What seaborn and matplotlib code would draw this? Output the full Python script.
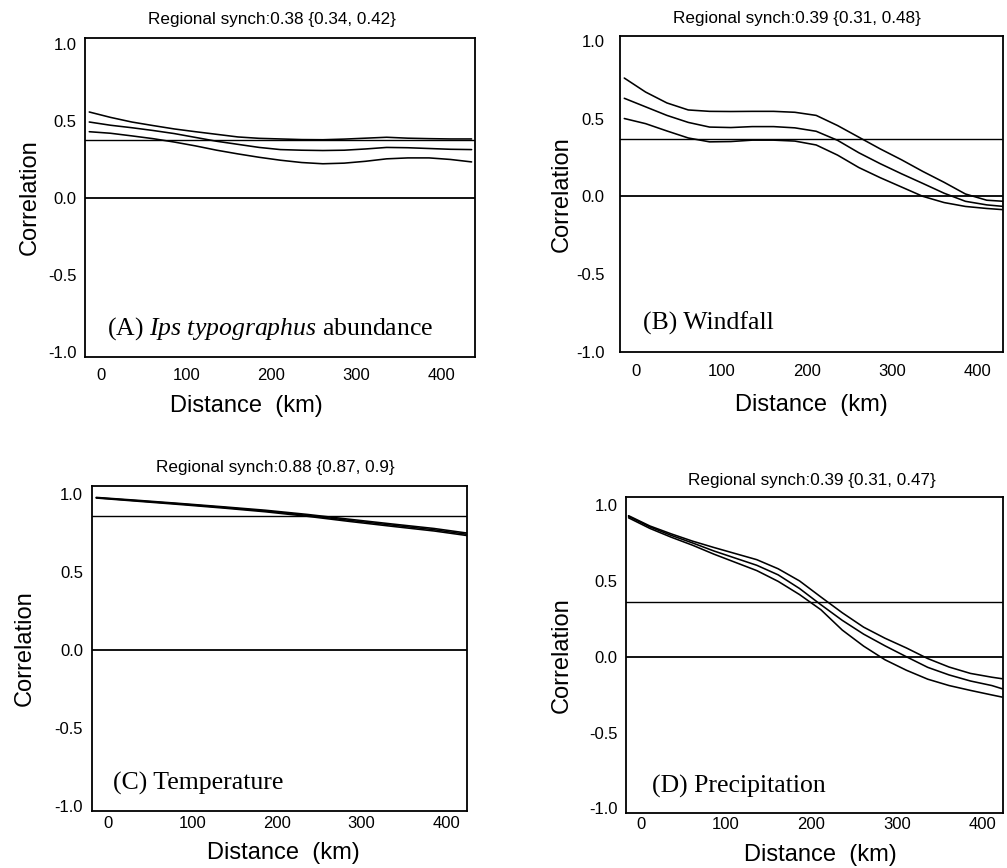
import matplotlib
matplotlib.use("Agg")
import matplotlib.pyplot as plt
import matplotlib.transforms as mtransforms
import seaborn as sns

# distance classes (km) and correlation curves: upper CI, estimate, lower CI
dist_a = [0, 25, 50, 75, 100, 125, 150, 175, 200, 225, 250, 275, 300, 325, 350, 375, 400, 425, 450]
a_upper = [0.56, 0.525, 0.495, 0.472, 0.45, 0.432, 0.415, 0.398, 0.389, 0.385, 0.381, 0.38, 0.384,
           0.39, 0.396, 0.39, 0.387, 0.385, 0.385]
a_mid = [0.495, 0.474, 0.458, 0.44, 0.42, 0.395, 0.37, 0.35, 0.33, 0.316, 0.312, 0.31, 0.312,
         0.32, 0.33, 0.328, 0.323, 0.318, 0.316]
a_lower = [0.432, 0.422, 0.405, 0.387, 0.365, 0.34, 0.312, 0.288, 0.266, 0.247, 0.232, 0.224, 0.228,
           0.24, 0.256, 0.262, 0.262, 0.252, 0.236]

dist_b = [0, 25, 50, 75, 100, 125, 150, 175, 200, 225, 250, 275, 300, 325, 350, 375, 400, 425, 445]
b_upper = [0.76, 0.67, 0.60, 0.555, 0.546, 0.545, 0.546, 0.546, 0.54, 0.52, 0.455, 0.38, 0.305,
           0.235, 0.16, 0.09, 0.015, -0.025, -0.032]
b_mid = [0.63, 0.575, 0.52, 0.475, 0.445, 0.442, 0.448, 0.448, 0.44, 0.418, 0.36, 0.28, 0.21,
         0.145, 0.083, 0.02, -0.032, -0.055, -0.065]
b_lower = [0.50, 0.467, 0.42, 0.375, 0.35, 0.352, 0.361, 0.361, 0.355, 0.33, 0.265, 0.185, 0.12,
           0.06, 0.0, -0.04, -0.065, -0.078, -0.086]

dist_c = [0, 50, 100, 150, 200, 250, 300, 350, 400, 440]
c_upper = [0.977, 0.958, 0.938, 0.917, 0.895, 0.868, 0.837, 0.807, 0.778, 0.748]
c_mid = [0.975, 0.955, 0.935, 0.913, 0.89, 0.862, 0.83, 0.80, 0.77, 0.74]
c_lower = [0.973, 0.952, 0.931, 0.909, 0.885, 0.856, 0.823, 0.792, 0.762, 0.732]

dist_d = [0, 25, 50, 75, 100, 125, 150, 175, 200, 225, 250, 275, 300, 325, 350, 375, 400, 425, 437]
d_upper = [0.93, 0.862, 0.81, 0.762, 0.72, 0.68, 0.64, 0.58, 0.50, 0.394, 0.29, 0.195, 0.122,
           0.058, -0.012, -0.068, -0.11, -0.135, -0.145]
d_mid = [0.925, 0.856, 0.80, 0.75, 0.697, 0.65, 0.603, 0.54, 0.45, 0.343, 0.24, 0.149, 0.072,
         0.0, -0.07, -0.12, -0.16, -0.19, -0.211]
d_lower = [0.916, 0.846, 0.788, 0.735, 0.676, 0.622, 0.568, 0.497, 0.41, 0.31, 0.176, 0.07, -0.02,
           -0.089, -0.148, -0.19, -0.222, -0.252, -0.266]

# regional synchrony line as drawn
synch = [0.38, 0.37, 0.856, 0.36]

titles = ["Regional synch:0.38 {0.34, 0.42}", "Regional synch:0.39 {0.31, 0.48}",
          "Regional synch:0.88 {0.87, 0.9}", "Regional synch:0.39 {0.31, 0.47}"]
panel_labels = [r"(A) $\mathit{Ips\ typographus}$ abundance", "(B) Windfall",
                "(C) Temperature", "(D) Precipitation"]

x_ticks = [0, 100, 200, 300, 400]
y_ticks = [-1.0, -0.5, 0.0, 0.5, 1.0]
y_ticklabels = ["-1.0", "-0.5", "0.0", "0.5", "1.0"]

panels = [
    (dist_a, a_upper, a_mid, a_lower),
    (dist_b, b_upper, b_mid, b_lower),
    (dist_c, c_upper, c_mid, c_lower),
    (dist_d, d_upper, d_mid, d_lower),
]

# layout (figure fractions / axes fractions), tuned to the original
rects = [[0.0844, 0.5887, 0.3873, 0.3675],
         [0.6157, 0.5945, 0.3803, 0.3640],
         [0.0914, 0.0657, 0.3724, 0.3744],
         [0.6216, 0.0634, 0.3744, 0.3640]]
xlims = [(-5, 454), (-5, 444), (-5, 439), (-3, 438)]
ylims = [(-1.03, 1.04), (-1.0, 1.03), (-1.03, 1.05), (-1.03, 1.053)]
title_x = [0.48, 0.462, 0.49, 0.493]
title_pad = [9.9, 9.4, 9.9, 8.6]
xtick_pad = [8.0, 8.5, 3.5, 3.0]
ytick_pad = [6.0, 11.0, 6.5, 6.0]
ylabel_x = [-0.113, -0.123, -0.149, -0.141]
xlabel_xy = [(0.415, -0.119), (0.50, -0.133), (0.51, -0.095), (0.515, -0.098)]
label_xy = [(0.056, 0.069), (0.06, 0.07), (0.056, 0.065), (0.069, 0.066)]

sns.set_theme(style="white")
plt.rcParams['font.family'] = ['Liberation Sans', 'DejaVu Sans']
plt.rcParams['axes.unicode_minus'] = False
plt.rcParams['mathtext.fontset'] = 'custom'
plt.rcParams['mathtext.rm'] = 'Liberation Serif'
plt.rcParams['mathtext.it'] = 'Liberation Serif:italic'

fig = plt.figure(figsize=(10.07, 8.68), dpi=100)
offset = mtransforms.ScaledTranslation(12 / 100, 0, fig.dpi_scale_trans)

for i, (dist, up, mid, lo) in enumerate(panels):
    ax = fig.add_axes(rects[i])
    for curve in (up, mid, lo):
        sns.lineplot(x=dist, y=curve, ax=ax, color="black", linewidth=1.15)
    ax.axhline(synch[i], color="black", linewidth=1.0)
    ax.axhline(0.0, color="black", linewidth=1.3)

    ax.set_xlim(*xlims[i])
    ax.set_ylim(*ylims[i])
    ax.set_xticks(x_ticks)
    ax.set_xticklabels([str(t) for t in x_ticks])
    ax.set_yticks(y_ticks)
    ax.set_yticklabels(y_ticklabels)
    ax.tick_params(axis="x", length=0, pad=xtick_pad[i], labelsize=12, colors="black")
    ax.tick_params(axis="y", length=0, pad=ytick_pad[i], labelsize=12, colors="black")
    for lbl in ax.get_xticklabels():
        lbl.set_transform(lbl.get_transform() + offset)

    for sp in ax.spines.values():
        sp.set_color("black")
        sp.set_linewidth(1.3)

    ax.set_title(titles[i], fontsize=12.3, x=title_x[i], pad=title_pad[i], color="black")
    ax.set_ylabel("Correlation", fontsize=17, color="black")
    ax.yaxis.set_label_coords(ylabel_x[i], 0.5)
    ax.set_xlabel("Distance  (km)", fontsize=17, color="black")
    ax.xaxis.set_label_coords(*xlabel_xy[i])

    ax.text(label_xy[i][0], label_xy[i][1], panel_labels[i], transform=ax.transAxes,
            fontsize=18.5, family="Liberation Serif", color="black", va="baseline", ha="left")

fig.savefig("out.png", dpi=100, facecolor="white")
